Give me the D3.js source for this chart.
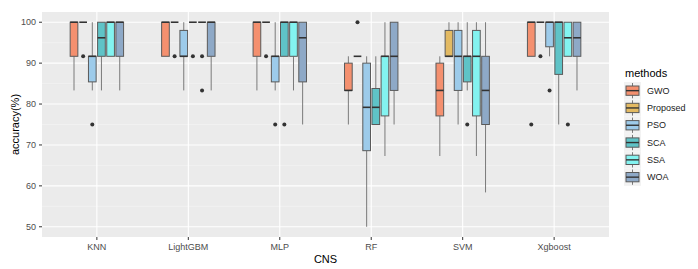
<!DOCTYPE html>
<html>
<head>
<meta charset="utf-8">
<script src="https://cdn.jsdelivr.net/npm/d3@7"></script>
<style>
  body { margin: 0; background: #fff; }
  svg text { font-family: Arial, "Liberation Sans", sans-serif; }
</style>
</head>
<body>
<svg width="698" height="269"></svg>
<script>
// categories + methods
var classifiers = ["KNN", "LightGBM", "MLP", "RF", "SVM", "Xgboost"]
var methods = ["GWO", "Proposed", "PSO", "SCA", "SSA", "WOA"]
var colors = ["#F4906F", "#E3BA63", "#9DCBEA", "#5FC3C7", "#83F3F0", "#8EA9C7"]
var yTicks = [50, 60, 70, 80, 90, 100]

// per method, per classifier: [lower whisker, q1, median, q3, upper whisker, outliers]
var gwo = [
  [83.33, 91.67, 100, 100, 100, []],
  [91.67, 91.67, 100, 100, 100, []],
  [83.33, 91.67, 100, 100, 100, []],
  [75, 83.33, 83.33, 90, 91.67, []],
  [67.3, 77.1, 83.33, 90, 91.67, []],
  [91.67, 91.67, 100, 100, 100, [75]]
]
var proposed = [
  [100, 100, 100, 100, 100, [91.67]],
  [100, 100, 100, 100, 100, [91.67]],
  [100, 100, 100, 100, 100, [91.67]],
  [91.67, 91.67, 91.67, 91.67, 91.67, [100]],
  [91.67, 91.67, 91.67, 98, 100, []],
  [100, 100, 100, 100, 100, [91.67]]
]
var pso = [
  [83.33, 85.42, 91.67, 91.67, 100, [75]],
  [83.33, 91.67, 91.67, 98, 100, []],
  [83.33, 85.42, 91.67, 91.67, 100, [75]],
  [50, 68.6, 79.2, 90, 91.67, []],
  [75, 83.33, 91.67, 98, 100, []],
  [91.67, 94, 100, 100, 100, [83.33]]
]
var sca = [
  [83.33, 91.67, 96.2, 100, 100, []],
  [100, 100, 100, 100, 100, [91.67]],
  [91.67, 91.67, 100, 100, 100, [75]],
  [75, 75, 79.2, 83.8, 91.67, []],
  [83.33, 85.42, 91.67, 91.67, 100, [75]],
  [75, 87.25, 100, 100, 100, []]
]
var ssa = [
  [91.67, 91.67, 100, 100, 100, []],
  [100, 100, 100, 100, 100, [91.67, 83.33]],
  [83.33, 91.67, 100, 100, 100, []],
  [67.3, 77.1, 91.67, 91.67, 100, []],
  [67.3, 77.1, 91.67, 98, 100, []],
  [91.67, 91.67, 96.2, 100, 100, [75]]
]
var woa = [
  [83.33, 91.67, 100, 100, 100, []],
  [83.33, 91.67, 100, 100, 100, []],
  [75, 85.42, 96.2, 100, 100, []],
  [75, 83.33, 91.67, 100, 100, []],
  [58.4, 75, 83.33, 91.67, 100, []],
  [83.33, 91.67, 96.2, 100, 100, []]
]
var series = [gwo, proposed, pso, sca, ssa, woa]

var svg = d3.select("svg")
var pl = 42, pr = 609, pt = 12, pb = 237   // panel edges

var x = d3.scalePoint().domain(classifiers).range([pl, pr]).padding(0.6)
var step = x.step()
var dodge = d3.scaleBand().domain(methods).range([-0.3 * step, 0.3 * step])
var bw = dodge.bandwidth() * 0.84
var y = d3.scaleLinear().domain([47.5, 102.5]).range([pb, pt])
var color = d3.scaleOrdinal().domain(methods).range(colors)

// panel
svg.append("rect").attr("x", pl).attr("y", pt)
  .attr("width", pr - pl).attr("height", pb - pt).attr("fill", "#EBEBEB")

var minor = d3.range(55, 100, 10)
svg.selectAll(".minor").data(minor).enter().append("line")
  .attr("x1", pl).attr("x2", pr)
  .attr("y1", y).attr("y2", y)
  .attr("stroke", "#F5F5F5").attr("stroke-width", 0.6)
svg.selectAll(".major").data(yTicks).enter().append("line")
  .attr("x1", pl).attr("x2", pr)
  .attr("y1", y).attr("y2", y)
  .attr("stroke", "#fff").attr("stroke-width", 1.1)
svg.selectAll(".vmajor").data(classifiers).enter().append("line")
  .attr("x1", x).attr("x2", x)
  .attr("y1", pt).attr("y2", pb)
  .attr("stroke", "#fff").attr("stroke-width", 1.1)

// boxes
var boxes = []
series.forEach(function(s, mi) {
  s.forEach(function(st, ci) {
    boxes.push({ m: methods[mi], c: classifiers[ci], st: st })
  })
})

var g = svg.selectAll(".box").data(boxes).enter().append("g")
  .attr("transform", function(d) { return "translate(" + (x(d.c) + dodge(d.m) + dodge.bandwidth() / 2) + ",0)" })

g.append("line") // upper whisker
  .attr("y1", function(d) { return y(d.st[3]) }).attr("y2", function(d) { return y(d.st[4]) })
  .attr("stroke", "#7a7a7a").attr("stroke-width", 1)
g.append("line") // lower whisker
  .attr("y1", function(d) { return y(d.st[0]) }).attr("y2", function(d) { return y(d.st[1]) })
  .attr("stroke", "#7a7a7a").attr("stroke-width", 1)
g.append("rect")
  .attr("x", -bw / 2).attr("width", bw)
  .attr("y", function(d) { return y(d.st[3]) })
  .attr("height", function(d) { return y(d.st[1]) - y(d.st[3]) })
  .attr("fill", function(d) { return color(d.m) })
  .attr("stroke", "#5a5a5a").attr("stroke-width", 1)
g.append("line") // median
  .attr("x1", -bw / 2).attr("x2", bw / 2)
  .attr("y1", function(d) { return y(d.st[2]) }).attr("y2", function(d) { return y(d.st[2]) })
  .attr("stroke", "#333").attr("stroke-width", 1.6)
g.selectAll("circle").data(function(d) { return d.st[5] }).enter().append("circle")
  .attr("cy", function(v) { return y(v) }).attr("r", 2)
  .attr("fill", "#333")

// axes
svg.selectAll(".ytick").data(yTicks).enter().append("line")
  .attr("x1", pl - 3).attr("x2", pl).attr("y1", y).attr("y2", y)
  .attr("stroke", "#333")
svg.selectAll(".ylab").data(yTicks).enter().append("text")
  .attr("x", pl - 6).attr("y", function(d) { return y(d) + 3 })
  .attr("text-anchor", "end").attr("font-size", 9).attr("fill", "#4D4D4D")
  .text(function(d) { return d })
svg.selectAll(".xtick").data(classifiers).enter().append("line")
  .attr("x1", x).attr("x2", x).attr("y1", pb).attr("y2", pb + 3)
  .attr("stroke", "#333")
svg.selectAll(".xlab").data(classifiers).enter().append("text")
  .attr("x", x).attr("y", pb + 13)
  .attr("text-anchor", "middle").attr("font-size", 9).attr("fill", "#4D4D4D")
  .text(function(d) { return d })

svg.append("text").attr("x", (pl + pr) / 2).attr("y", 263)
  .attr("text-anchor", "middle").attr("font-size", 11).attr("fill", "#000").text("CNS")
svg.append("text").attr("transform", "translate(19," + ((pt + pb) / 2) + ") rotate(-90)")
  .attr("text-anchor", "middle").attr("font-size", 11).attr("fill", "#000").text("accuracy(%)")

// legend
var lg = svg.append("g").attr("transform", "translate(624,0)")
lg.append("text").attr("x", 1).attr("y", 77).attr("font-size", 11).text("methods")
var keyH = 17.3
var keys = lg.selectAll(".key").data(methods).enter().append("g")
  .attr("transform", function(d, i) { return "translate(0," + (82 + i * keyH) + ")" })
keys.append("rect").attr("width", 17).attr("height", keyH).attr("fill", "#F2F2F2")
keys.append("line").attr("x1", 8.5).attr("x2", 8.5).attr("y1", 1).attr("y2", keyH - 1)
  .attr("stroke", "#7a7a7a")
keys.append("rect").attr("x", 2).attr("y", 4).attr("width", 13).attr("height", keyH - 8)
  .attr("fill", function(d) { return color(d) }).attr("stroke", "#5a5a5a")
keys.append("line").attr("x1", 2).attr("x2", 15).attr("y1", keyH / 2).attr("y2", keyH / 2)
  .attr("stroke", "#333").attr("stroke-width", 1.4)
keys.append("text").attr("x", 23).attr("y", keyH / 2 + 3).attr("font-size", 9).attr("fill", "#1a1a1a")
  .text(function(d) { return d })
</script>
</body>
</html>
